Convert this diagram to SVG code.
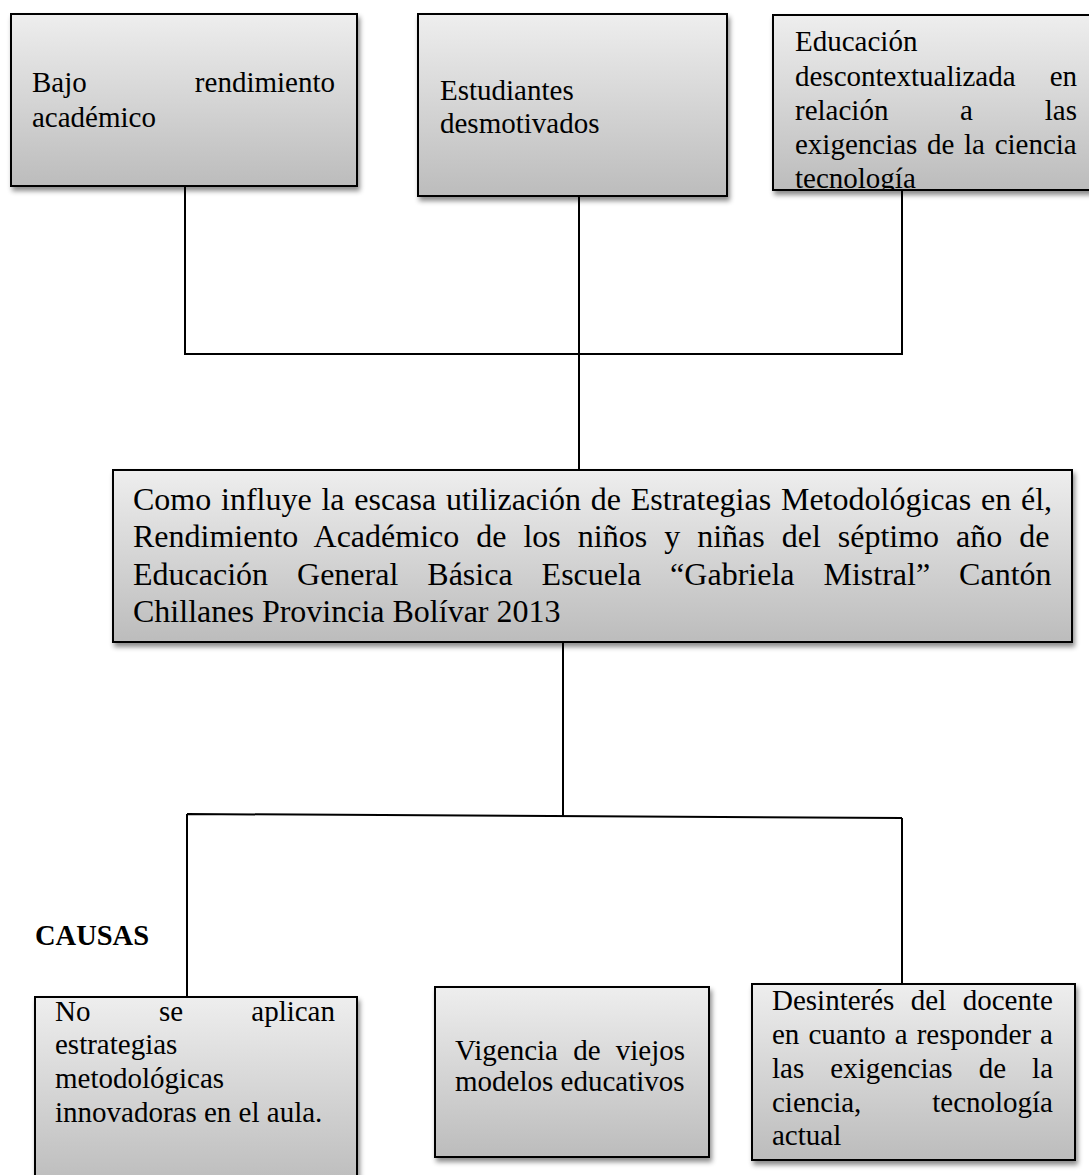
<svg xmlns="http://www.w3.org/2000/svg" width="1089" height="1175" viewBox="0 0 1089 1175">
<defs>
<linearGradient id="g" x1="0" y1="0" x2="0" y2="1">
<stop offset="0" stop-color="#eeeeee"/>
<stop offset="1" stop-color="#bcbcbc"/>
</linearGradient>
<filter id="sh" x="-5%" y="-5%" width="115%" height="120%">
<feDropShadow dx="2" dy="4" stdDeviation="2.5" flood-color="#000" flood-opacity="0.45"/>
</filter>
<clipPath id="c3"><rect x="774" y="16" width="320" height="174"/></clipPath>
</defs>
<style>
.box{fill:url(#g);stroke:#000;stroke-width:2;filter:url(#sh)}
.t{font-family:"Liberation Serif","Times New Roman",serif;font-size:29px;fill:#000}
.tc{font-family:"Liberation Serif","Times New Roman",serif;font-size:32px;fill:#000}
.e{text-anchor:end}
.lbl{font-family:"Liberation Serif","Times New Roman",serif;font-size:28.5px;font-weight:bold;fill:#000}
.ln{stroke:#000;stroke-width:2;fill:none}
</style>
<rect width="1089" height="1175" fill="#fff"/>
<g id="connectors">
<path class="ln" d="M185,186 V354 M579,196 V470 M902,190 V354 M184,354 H903"/>
<path class="ln" d="M563,642 V817 M187,814 L902,818 M187,814 V997 M902,818 V984"/>
</g>
<g id="effect1">
<rect class="box" x="11" y="14" width="346" height="172"/>
<text class="t" x="32" y="92">Bajo</text>
<text class="t e" x="335" y="92">rendimiento</text>
<text class="t" x="32" y="127">académico</text>
</g>
<g id="effect2">
<rect class="box" x="418" y="14" width="309" height="182"/>
<text class="t" x="440" y="100">Estudiantes</text>
<text class="t" x="440" y="133">desmotivados</text>
</g>
<g id="effect3">
<rect class="box" x="773" y="15" width="322" height="175"/>
<g clip-path="url(#c3)">
<text class="t" x="795" y="51">Educación</text>
<text class="t" x="795" y="86">descontextualizada</text>
<text class="t e" x="1077" y="86">en</text>
<text class="t" x="795" y="120">relación</text>
<text class="t" x="960" y="120">a</text>
<text class="t e" x="1077" y="120">las</text>
<text class="t" x="795" y="154" word-spacing="2.4">exigencias de la ciencia</text>
<text class="t" x="795" y="188">tecnología</text>
</g>
</g>
<g id="problem">
<rect class="box" x="113" y="470" width="959" height="172"/>
<text class="tc" x="133" y="510" word-spacing="1.8">Como influye la escasa utilización de Estrategias Metodológicas en él,</text>
<text class="tc" x="133" y="547" word-spacing="9">Rendimiento Académico de los niños y niñas del séptimo año de</text>
<text class="tc" x="133" y="585" word-spacing="21">Educación General Básica Escuela “Gabriela Mistral” Cantón</text>
<text class="tc" x="133" y="622">Chillanes Provincia Bolívar 2013</text>
</g>
<g id="causas-label">
<text class="lbl" x="35" y="945">CAUSAS</text>
</g>
<g id="cause1">
<rect class="box" x="35" y="997" width="322" height="190"/>
<text class="t" x="55" y="1021">No</text>
<text class="t" x="159" y="1021">se</text>
<text class="t e" x="335" y="1021">aplican</text>
<text class="t" x="55" y="1054">estrategias</text>
<text class="t" x="55" y="1088">metodológicas</text>
<text class="t" x="55" y="1122">innovadoras en el aula.</text>
</g>
<g id="cause2">
<rect class="box" x="435" y="987" width="274" height="170"/>
<text class="t" x="455" y="1060" word-spacing="8">Vigencia de viejos</text>
<text class="t" x="455" y="1091">modelos educativos</text>
</g>
<g id="cause3">
<rect class="box" x="752" y="984" width="323" height="176"/>
<text class="t" x="772" y="1010" word-spacing="9.2">Desinterés del docente</text>
<text class="t" x="772" y="1044" word-spacing="1.8">en cuanto a responder a</text>
<text class="t" x="772" y="1078" word-spacing="18.8">las exigencias de la</text>
<text class="t" x="772" y="1112">ciencia,</text>
<text class="t e" x="1053" y="1112">tecnología</text>
<text class="t" x="772" y="1145">actual</text>
</g>
</svg>
